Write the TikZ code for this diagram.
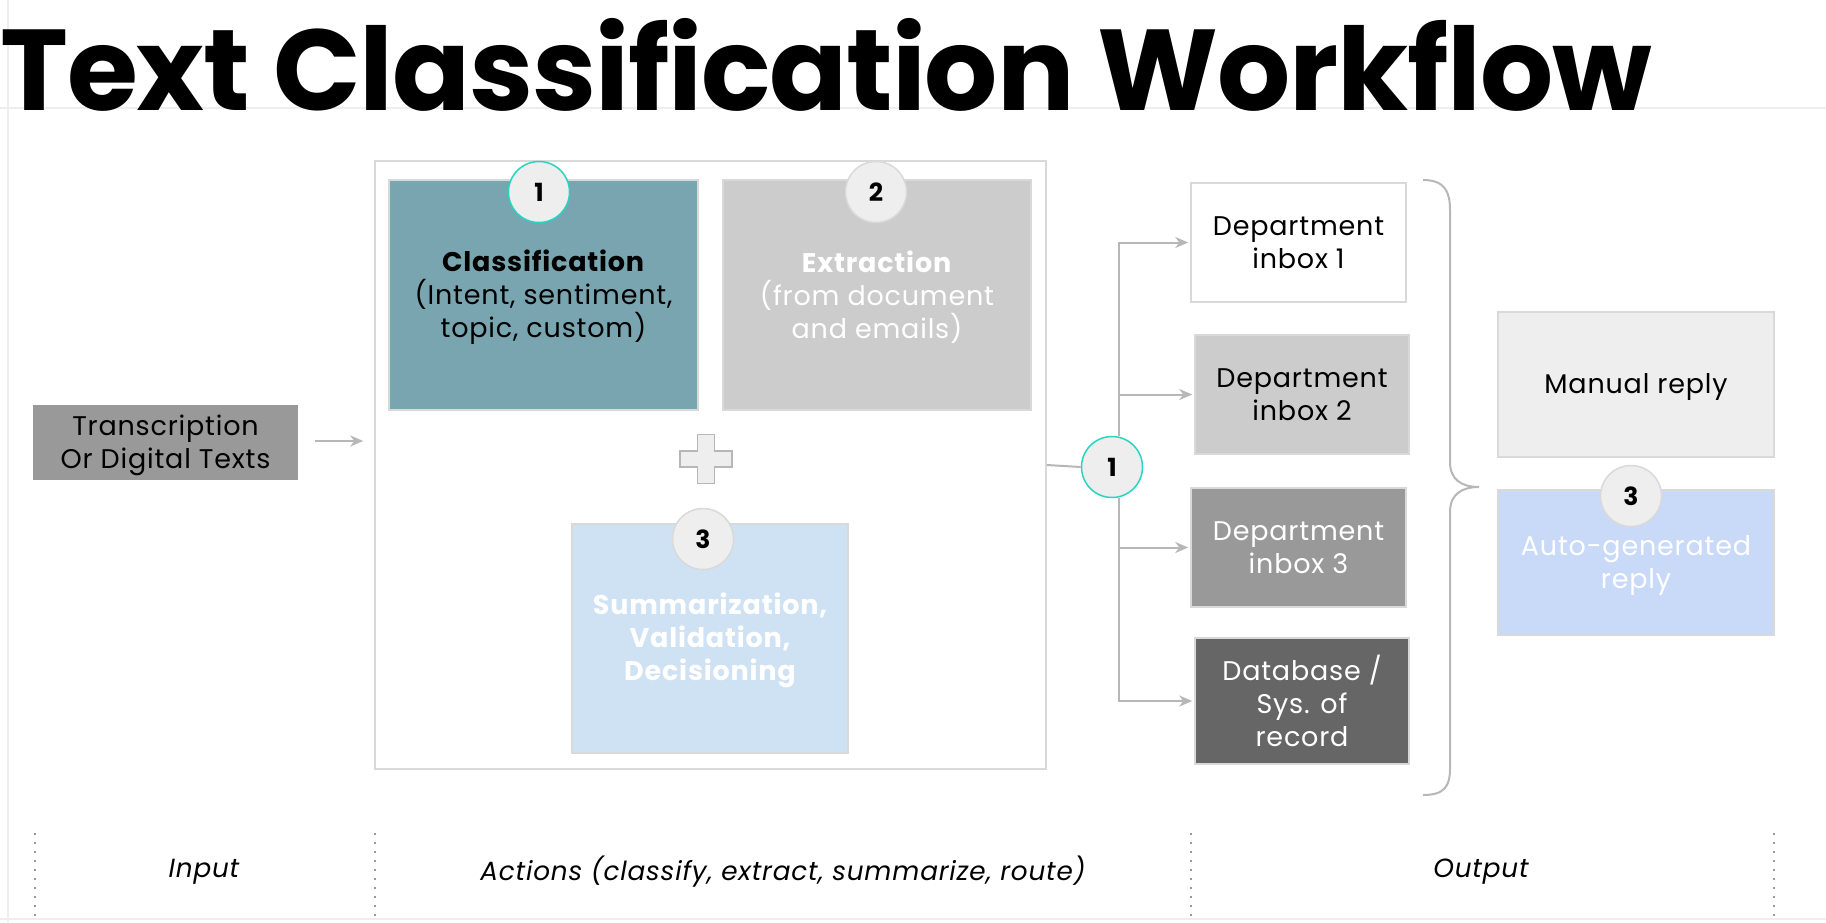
\documentclass[tikz,border=0pt]{standalone}
\usepackage{fontspec}
\setmainfont{Poppins}[LetterSpace=3]
\newfontfamily\titlefont{Poppins}[LetterSpace=-1]
\usetikzlibrary{arrows.meta,calc}
\definecolor{teal1}{HTML}{78A5B0}
\definecolor{tealline}{HTML}{2AD4C0}
\definecolor{bord}{HTML}{D9D9D9}
\definecolor{g1}{HTML}{EEEEEE}
\definecolor{g2}{HTML}{CCCCCC}
\definecolor{g3}{HTML}{999999}
\definecolor{g4}{HTML}{666666}
\definecolor{lblue}{HTML}{CFE2F3}
\definecolor{cblue}{HTML}{C9DAF8}
\definecolor{conn}{HTML}{B7B7B7}
\definecolor{frame}{HTML}{EEEEEE}
\newcommand\hs{\rule{0pt}{26pt}}
\tikzset{
  body/.style={font=\fontsize{27}{33}\selectfont},
  box/.style={body,draw=bord,line width=1.5pt,align=center,inner sep=0pt},
  numc/.style={circle,draw=bord,line width=1.5pt,fill=g1,minimum size=61pt,inner sep=0pt,font=\fontsize{25}{25}\selectfont\bfseries},
  tnumc/.style={numc,draw=tealline},
  arr/.style={draw=conn,line width=2pt,-{Stealth[length=13pt,width=11pt,inset=4pt]}},
  conline/.style={draw=conn,line width=2pt},
  sep/.style={draw=g3,line width=1.2pt,dash pattern=on 2pt off 7pt},
  foot/.style={font=\fontsize{26.3}{30}\selectfont\itshape}
}
\begin{document}
\begin{tikzpicture}[x=1pt,y=-1pt]
\useasboundingbox (0,0) rectangle (1826,922);
% frame lines
\draw[frame,line width=1.5pt] (8,0) -- (8,922);
\draw[frame,line width=1.5pt] (0,108) -- (1826,108);
\draw[frame,line width=2pt] (0,919) -- (1826,919);
% title
\node[anchor=base west,inner sep=0pt,font=\titlefont\fontsize{115}{115}\selectfont\bfseries] (title) at (0,110) {Text Classification Workflow};
% input
\node[box,fill=g3,draw=none,minimum width=265pt,minimum height=75pt] (trans) at (165.5,442.5) {\hs Transcription\\Or Digital Texts};
% container
\node[draw=bord,line width=1.5pt,fill=white,minimum width=671pt,minimum height=608pt,inner sep=0pt] (cont) at (710.5,465) {};
\draw[arr] ([xshift=16pt,yshift=1.5pt]trans.east) -- ([xshift=-11pt,yshift=1.5pt]trans.east -| cont.west);
% classification
\node[box,fill=teal1,minimum width=309pt,minimum height=230pt] (cls) at (543.5,295) {\hs\textbf{Classification}\\(Intent, sentiment,\\topic, custom)};
\node[tnumc] (n1) at (539,192) {1};
\node[box,fill=g2,text=white,minimum width=308pt,minimum height=230pt] (ext) at (877,295) {\hs\textbf{Extraction}\\(from document\\and emails)};
\node[numc] (n2) at (876,192) {2};
% plus
\draw[fill=g1,draw=conn,line width=1.5pt] (706,459) ++(-8.5,-24.5) -- ++(17,0) -- ++(0,16.5) -- ++(17.5,0) -- ++(0,16) -- ++(-17.5,0) -- ++(0,16.5) -- ++(-17,0) -- ++(0,-16.5) -- ++(-17.5,0) -- ++(0,-16) -- ++(17.5,0) -- cycle;
% summarization
\node[box,fill=lblue,text=white,minimum width=276pt,minimum height=229pt,font=\fontsize{27}{33}\selectfont\bfseries] (sum) at (710,638.5) {\hs Summarization,\\Validation,\\Decisioning};
\node[numc] (n3) at (703,539) {3};
% routing
\node[tnumc] (route) at (1112,467) {1};
\node[box,fill=white,minimum width=215pt,minimum height=119pt] (d1) at (1298.5,242.5) {Department\\inbox 1};
\node[box,fill=g2,minimum width=214pt,minimum height=119pt] (d2) at (1302,394.5) {Department\\inbox 2};
\node[box,fill=g3,text=white,minimum width=215pt,minimum height=119pt] (d3) at (1298.5,547.5) {Department\\inbox 3};
\node[box,fill=g4,text=white,minimum width=214pt,minimum height=126pt] (db) at (1302,701) {Database /\\Sys. of\\record};
\draw[conline] (cont.east) -- (route.west);
\draw[arr] ([xshift=7pt]route.north) |- ([xshift=-2pt]d1.west);
\draw[arr] ([xshift=7pt]route.north) |- ([xshift=-2pt]d2.west);
\draw[arr] ([xshift=7pt]route.south) |- ([xshift=-2pt]d3.west);
\draw[arr] ([xshift=7pt]route.south) |- ([xshift=-2pt]db.west);
% brace
\draw[conline] (1423,180) .. controls (1445,180) and (1450,192) .. (1450,210) -- (1450,462) .. controls (1450,480) and (1462,487) .. (1479,487) .. controls (1462,487) and (1450,494) .. (1450,512) -- (1450,768) .. controls (1450,786) and (1445,795) .. (1423,795);
% replies
\node[box,fill=g1,minimum width=276pt,minimum height=145pt] (man) at (1636,384.5) {\hs Manual reply};
\node[box,fill=cblue,text=white,minimum width=276pt,minimum height=145pt] (auto) at (1636,562.5) {\hs Auto-generated\\reply};
\node[numc] (n4) at (1631,496) {3};
% footer
\draw[sep] (35,833) -- (35,922);
\draw[sep] (375,833) -- (375,922);
\draw[sep] (1191,833) -- (1191,922);
\draw[sep] (1774,833) -- (1774,922);
\node[foot] (in) at (204,872) {Input};
\node[foot] (act) at (783,872) {Actions (classify, extract, summarize, route)};
\node[foot] (out) at (1481,872) {Output};
\end{tikzpicture}
\end{document}
